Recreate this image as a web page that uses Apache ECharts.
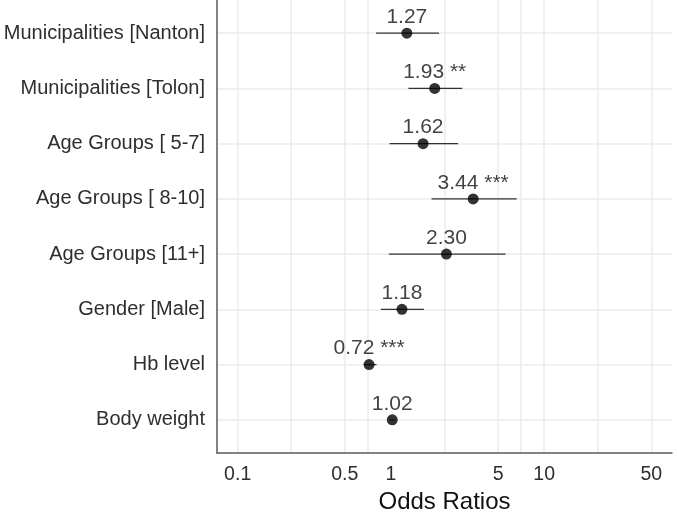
<!DOCTYPE html>
<html>
<head>
<meta charset="utf-8">
<script src="https://cdn.jsdelivr.net/npm/echarts@6/dist/echarts.min.js"></script>
<style>
    html, body { margin: 0; padding: 0; background: #fff; }
    #chart { width: 677px; height: 515px; }
</style>
</head>
<body>
<div id="chart"></div>
<script>
var terms = [
    'Municipalities [Nanton]',
    'Municipalities [Tolon]',
    'Age Groups [ 5-7]',
    'Age Groups [ 8-10]',
    'Age Groups [11+]',
    'Gender [Male]',
    'Hb level',
    'Body weight'
];
var oddsRatios = [1.27, 1.93, 1.62, 3.44, 2.30, 1.18, 0.72, 1.02];
var ciLow = [0.80, 1.30, 0.98, 1.84, 0.97, 0.86, 0.665, 0.99];
var ciHigh = [2.06, 2.92, 2.74, 6.61, 5.60, 1.64, 0.805, 1.05];
var stars = ['', '**', '', '***', '', '', '***', ''];
var xTicks = [0.1, 0.5, 1, 5, 10, 50];
// grid lines: majors (no line at 1) + minor breaks between them
var xGrid = [0.1, 0.2236, 0.5, 0.7071, 2.236, 5, 7.071, 10, 22.36, 50];
var rowIdx = [1, 2, 3, 4, 5, 6, 7, 8];

var font = 'Liberation Sans, Arial, sans-serif';
var chart = echarts.init(document.getElementById('chart'));

var ciData = [];
var pointData = [];
for (var i = 0; i < terms.length; i++) {
    ciData.push([ciLow[i], ciHigh[i], rowIdx[i]]);
    pointData.push([oddsRatios[i], rowIdx[i]]);
}

var option = {
    backgroundColor: '#fff',
    animation: false,
    grid: {
        left: 217,
        right: 5,
        top: 0,
        bottom: 62,
        outerBoundsMode: 'none'
    },
    xAxis: {
        type: 'log',
        logBase: 10,
        min: 0.0733,
        max: 68.2,
        name: 'Odds Ratios',
        nameLocation: 'middle',
        nameGap: 36,
        nameTextStyle: { fontFamily: font, fontSize: 24, color: '#111' },
        axisLine: { show: true, lineStyle: { color: '#5a5a5a', width: 1.5 } },
        axisTick: { show: false, customValues: xGrid },
        axisLabel: {
            customValues: xTicks,
            margin: 12,
            fontFamily: font,
            fontSize: 19.5,
            color: '#2e2e2e',
            formatter: function(v) { return String(+(+v).toPrecision(6)); }
        },
        splitLine: { show: true, lineStyle: { color: '#ebebeb', width: 1.5 } },
        minorSplitLine: { show: false }
    },
    yAxis: {
        type: 'value',
        inverse: true,
        min: 0.4,
        max: 8.6,
        axisLine: { show: true, lineStyle: { color: '#5a5a5a', width: 1.5 } },
        axisTick: { show: false, customValues: rowIdx },
        axisLabel: {
            customValues: rowIdx,
            margin: 12,
            fontFamily: font,
            fontSize: 20,
            color: '#2e2e2e',
            formatter: function(v) { return terms[Math.round(v) - 1]; }
        },
        splitLine: { show: true, lineStyle: { color: '#ebebeb', width: 1.5 } }
    },
    series: [
        {
            type: 'custom',
            silent: true,
            data: ciData,
            encode: { x: [0, 1], y: 2 },
            renderItem: function(params, api) {
                var a = api.coord([api.value(0), api.value(2)]);
                var b = api.coord([api.value(1), api.value(2)]);
                return {
                    type: 'line',
                    shape: { x1: a[0], y1: a[1], x2: b[0], y2: b[1] },
                    style: { stroke: '#333', lineWidth: 1.2 }
                };
            },
            z: 2
        },
        {
            type: 'scatter',
            data: pointData,
            symbol: 'circle',
            symbolSize: 11,
            itemStyle: { color: '#000' },
            label: {
                show: true,
                position: 'top',
                distance: 0,
                fontFamily: font,
                fontSize: 21,
                color: '#111',
                formatter: function(p) {
                    var i = p.dataIndex;
                    return oddsRatios[i].toFixed(2) + (stars[i] ? ' ' + stars[i] : '');
                }
            },
            z: 3
        }
    ]
};
chart.setOption(option);
</script>
</body>
</html>
